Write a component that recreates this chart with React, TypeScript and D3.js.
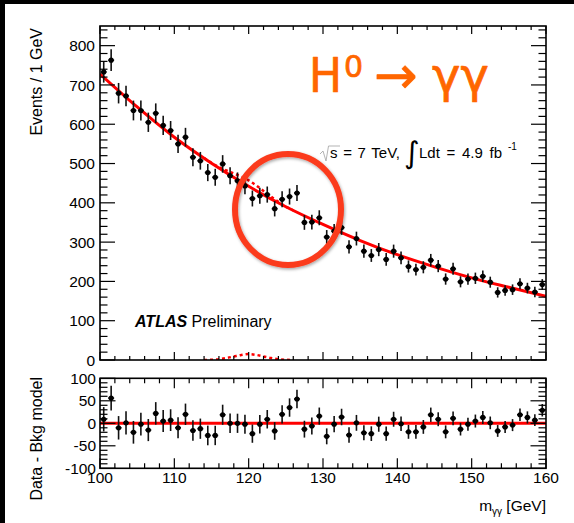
import React from "react";
import * as d3 from "d3";

// ---- data ----
const massBins = [
  100.5, 101.5, 102.5, 103.5, 104.5, 105.5, 106.5, 107.5, 108.5, 109.5,
  110.5, 111.5, 112.5, 113.5, 114.5, 115.5, 116.5, 117.5, 118.5, 119.5,
  120.5, 121.5, 122.5, 123.5, 124.5, 125.5, 126.5, 127.5, 128.5, 129.5,
  130.5, 131.5, 132.5, 133.5, 134.5, 135.5, 136.5, 137.5, 138.5, 139.5,
  140.5, 141.5, 142.5, 143.5, 144.5, 145.5, 146.5, 147.5, 148.5, 149.5,
  150.5, 151.5, 152.5, 153.5, 154.5, 155.5, 156.5, 157.5, 158.5, 159.5,
];
const events = [
  733, 763, 679, 672, 635, 635, 605, 628, 597, 584,
  550, 567, 516, 507, 477, 465, 499, 469, 456, 443,
  411, 418, 421, 385, 409, 416, 425, 350, 351, 362,
  313, 328, 337, 288, 309, 277, 266, 281, 256, 277,
  260, 238, 230, 236, 254, 239, 206, 232, 199, 206,
  208, 213, 198, 172, 177, 179, 194, 183, 173, 192,
];
const residuals = [
  9, 56, -10, 1, -20, -2, -15, 22, 5, 7,
  -10, 20, -16, -12, -27, -27, 19, 0, 0, -2,
  -23, -2, 9, -17, 20, 35, 54, -13, -6, 16,
  -29, -2, 14, -26, 1, -21, -23, -2, -23, 9,
  -1, -19, -19, -8, 19, 9, -19, 11, -13, -2,
  5, 13, 1, -17, -8, -4, 19, 13, 7, 29,
];
const fitMass = [100, 105, 110, 115, 120, 125, 130, 135, 140, 145, 150, 155, 160];
const fitEvents = [728, 644, 567, 501, 442, 390, 345, 304, 268, 237, 209, 185, 162];
const signalMass = [114, 115, 116, 117, 118, 119, 120, 121, 122, 123, 124, 125, 126];
const signalEvents = [0, 0.5, 2, 5, 9, 13, 15, 13, 9, 5, 2, 0.5, 0];
const mainYTicks = [0, 100, 200, 300, 400, 500, 600, 700, 800];
const resYTicks = [-100, -50, 0, 50, 100];
const xTicks = [100, 110, 120, 130, 140, 150, 160];

// ---- layout ----
const W = 574;
const H = 523;
const XL = 100;
const XR = 546;
const MT = 26;
const MB = 360;
const RT = 378.3;
const RB = 468.3;
const FONT = "'Liberation Sans', Arial, Helvetica, sans-serif";
const RED = "#ff0000";

export default function App() {
  const x = d3.scaleLinear().domain([100, 160]).range([XL, XR]);
  const y = d3.scaleLinear().domain([0, 850]).range([MB, MT]);
  const yr = d3.scaleLinear().domain([-100, 100]).range([RB, RT]);
  const fitAt = d3.scaleLinear().domain(fitMass).range(fitEvents);

  const fitLine = d3
    .line<number>()
    .x((_, i) => x(fitMass[i]))
    .y((d) => y(d))
    .curve(d3.curveMonotoneX)(fitEvents) as string;

  const sigLine = d3
    .line<number>()
    .x((_, i) => x(signalMass[i]))
    .y((d) => y(d))
    .curve(d3.curveMonotoneX)(signalEvents) as string;

  const sbLine = d3
    .line<number>()
    .x((_, i) => x(signalMass[i]))
    .y((d, i) => y(d + fitAt(signalMass[i])))
    .curve(d3.curveMonotoneX)(signalEvents) as string;

  const minorX = d3.range(100, 160.01, 2);
  const minorMainY = d3.range(0, 850.01, 20);
  const minorResY = d3.range(-100, 100.01, 10);
  const halfBin = 0.4;

  return (
    <svg
      width={W}
      height={H}
      style={{ position: "absolute", left: 0, top: 0, display: "block", background: "#fff" }}
      fontFamily={FONT}
    >
      <defs>
        <clipPath id="mainClip">
          <rect x={XL} y={MT} width={XR - XL} height={MB - MT} />
        </clipPath>
        <clipPath id="resClip">
          <rect x={XL} y={RT} width={XR - XL} height={RB - RT} />
        </clipPath>
        <filter id="shadow" x="-20%" y="-20%" width="140%" height="140%">
          <feDropShadow dx="1" dy="1.5" stdDeviation="1.5" floodColor="#000" floodOpacity="0.35" />
        </filter>
      </defs>
      <rect x={0} y={0} width={W} height={H} fill="#fff" />
      <rect x={0} y={0} width={5} height={H} fill="#000" />
      <rect x={0} y={0} width={W} height={4} fill="#000" />

      {/* ---------- main panel ---------- */}
      <g clipPath="url(#mainClip)">
        <path d={fitLine} fill="none" stroke={RED} strokeWidth={3} />
        <path d={sbLine} fill="none" stroke={RED} strokeWidth={2.5} strokeDasharray="3 3" />
        <path d={sigLine} fill="none" stroke={RED} strokeWidth={2.5} strokeDasharray="3 3" />
      </g>
      {massBins.map((m, i) => {
        const n = events[i];
        const e = Math.sqrt(n);
        return (
          <g key={"d" + i}>
            <line x1={x(m)} x2={x(m)} y1={y(n - e)} y2={y(n + e)} stroke="#111" strokeWidth={1.6} />
            <line x1={x(m - halfBin)} x2={x(m + halfBin)} y1={y(n)} y2={y(n)} stroke="#111" strokeWidth={1.6} />
            <circle cx={x(m)} cy={y(n)} r={2.6} fill="#000" />
          </g>
        );
      })}

      {/* main frame & ticks */}
      <rect x={XL} y={MT} width={XR - XL} height={MB - MT} fill="none" stroke="#000" strokeWidth={1.6} />
      {minorMainY.map((v) => {
        const major = v % 100 === 0;
        const len = major ? 15 : 7.5;
        return (
          <g key={"my" + v}>
            <line x1={XL} x2={XL + len} y1={y(v)} y2={y(v)} stroke="#000" strokeWidth={1.2} />
            <line x1={XR} x2={XR - len} y1={y(v)} y2={y(v)} stroke="#000" strokeWidth={1.2} />
          </g>
        );
      })}
      {minorX.map((v) => {
        const major = v % 10 === 0;
        const len = major ? 8 : 4;
        return (
          <g key={"mx" + v}>
            <line x1={x(v)} x2={x(v)} y1={MB} y2={MB - len} stroke="#000" strokeWidth={1.2} />
            <line x1={x(v)} x2={x(v)} y1={MT} y2={MT + len} stroke="#000" strokeWidth={1.2} />
          </g>
        );
      })}
      {mainYTicks.map((v) => (
        <text key={"myl" + v} x={95} y={y(v)} dy="0.36em" textAnchor="end" fontSize={15.5} fill="#000">
          {v}
        </text>
      ))}
      <text transform="translate(42,28) rotate(-90)" textAnchor="end" fontSize={16} fill="#000">
        Events / 1 GeV
      </text>

      {/* annotations */}
      <text x={135} y={327} fontSize={16} fill="#000">
        <tspan fontWeight="bold" fontStyle="italic">ATLAS</tspan>
        <tspan> Preliminary</tspan>
      </text>
      <path d="M320,154 L323,151 L326,161 L328.5,146 L340,146" fill="none" stroke="#aaa" strokeWidth={0.9} />
      <text x={330} y={158} fontSize={15} fill="#000" wordSpacing={1.5}>
        s = 7 TeV,
      </text>
      <text x={404} y={163} fontSize={30} fill="#000" fontFamily="'DejaVu Sans', sans-serif">
        ∫
      </text>
      <text x={419} y={158} fontSize={15} fill="#000" wordSpacing={2.5}>
        Ldt = 4.9 fb
      </text>
      <text x={508} y={150} fontSize={10} fill="#000">
        -1
      </text>

      <g fill="#ff6600" stroke="#ff6600" strokeWidth={0.7} strokeLinejoin="round" fontFamily="'DejaVu Sans', sans-serif">
        <text x={309} y={92} fontSize={48} textLength={33} lengthAdjust="spacingAndGlyphs">
          H
        </text>
        <text x={344} y={77} fontSize={30}>
          0
        </text>
        <text x={374} y={93} fontSize={52}>
          →
        </text>
        <text x={432} y={92} fontSize={48}>
          γγ
        </text>
      </g>

      <ellipse
        cx={288}
        cy={209.5}
        rx={53}
        ry={55.5}
        fill="none"
        stroke="#fb3b1e"
        strokeWidth={6}
        filter="url(#shadow)"
      />

      {/* ---------- residual panel ---------- */}
      <g clipPath="url(#resClip)">
        <line x1={XL} x2={XR} y1={yr(0)} y2={yr(0)} stroke={RED} strokeWidth={3} />
      </g>
      {massBins.map((m, i) => {
        const r = residuals[i];
        const e = Math.sqrt(events[i]);
        return (
          <g key={"r" + i}>
            <line x1={x(m)} x2={x(m)} y1={yr(r - e)} y2={yr(r + e)} stroke="#111" strokeWidth={1.6} />
            <line x1={x(m - halfBin)} x2={x(m + halfBin)} y1={yr(r)} y2={yr(r)} stroke="#111" strokeWidth={1.6} />
            <circle cx={x(m)} cy={yr(r)} r={2.6} fill="#000" />
          </g>
        );
      })}
      <rect x={XL} y={RT} width={XR - XL} height={RB - RT} fill="none" stroke="#000" strokeWidth={1.6} />
      {minorResY.map((v) => {
        const major = v % 50 === 0;
        const len = major ? 15.5 : 7.5;
        return (
          <g key={"ry" + v}>
            <line x1={XL} x2={XL + len} y1={yr(v)} y2={yr(v)} stroke="#000" strokeWidth={1.2} />
            <line x1={XR} x2={XR - len} y1={yr(v)} y2={yr(v)} stroke="#000" strokeWidth={1.2} />
          </g>
        );
      })}
      {minorX.map((v) => {
        const major = v % 10 === 0;
        const len = major ? 10 : 5;
        return (
          <g key={"rx" + v}>
            <line x1={x(v)} x2={x(v)} y1={RB} y2={RB - len} stroke="#000" strokeWidth={1.2} />
            <line x1={x(v)} x2={x(v)} y1={RT} y2={RT + len} stroke="#000" strokeWidth={1.2} />
          </g>
        );
      })}
      {resYTicks.map((v) => (
        <text key={"ryl" + v} x={96} y={yr(v)} dy="0.36em" textAnchor="end" fontSize={15.5} fill="#000">
          {v}
        </text>
      ))}
      {xTicks.map((v) => (
        <text key={"xl" + v} x={x(v)} y={483} textAnchor="middle" fontSize={15.5} fill="#000">
          {v}
        </text>
      ))}
      <text transform="translate(42,377) rotate(-90)" textAnchor="end" fontSize={16} fill="#000">
        Data - Bkg model
      </text>
      <text x={546} y={511} textAnchor="end" fontSize={15.5} fill="#000">
        m<tspan fontSize={10} dy={4}>γγ</tspan>
        <tspan dy={-4}> [GeV]</tspan>
      </text>
    </svg>
  );
}
